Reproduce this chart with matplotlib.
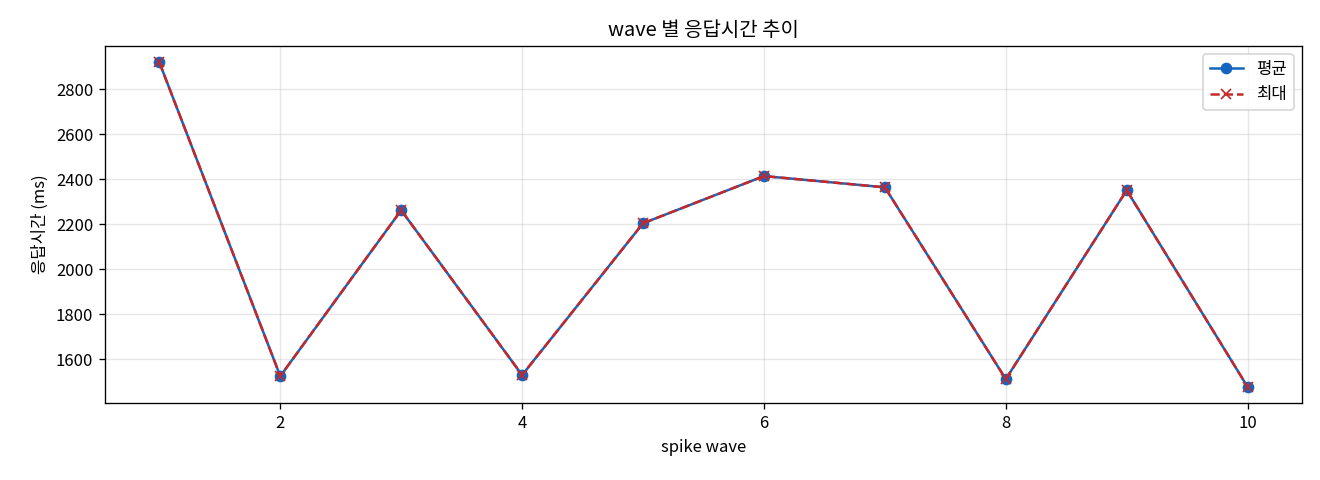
import matplotlib
matplotlib.use("Agg")
import matplotlib.pyplot as plt

plt.rcParams["font.family"] = ["Noto Sans CJK KR", "DejaVu Sans"]
plt.rcParams["axes.unicode_minus"] = False

waves = [1, 2, 3, 4, 5, 6, 7, 8, 9, 10]
avg_ms = [2920, 1524, 2262, 1529, 2204, 2414, 2364, 1511, 2351, 1476]
max_ms = [2920, 1524, 2262, 1529, 2204, 2414, 2364, 1511, 2351, 1476]

fig, ax = plt.subplots(figsize=(11, 4), dpi=120)
ax.plot(waves, avg_ms, marker="o", color="#1565c0", label="평균")
ax.plot(waves, max_ms, marker="x", linestyle="--", color="#c62828", label="최대")
ax.set_title("wave 별 응답시간 추이")
ax.set_xlabel("spike wave")
ax.set_ylabel("응답시간 (ms)")
ax.grid(True, alpha=0.3)
ax.legend(loc="upper right")
fig.subplots_adjust(left=0.0795, right=0.9864, top=0.904, bottom=0.160)
fig.savefig("out.png")
